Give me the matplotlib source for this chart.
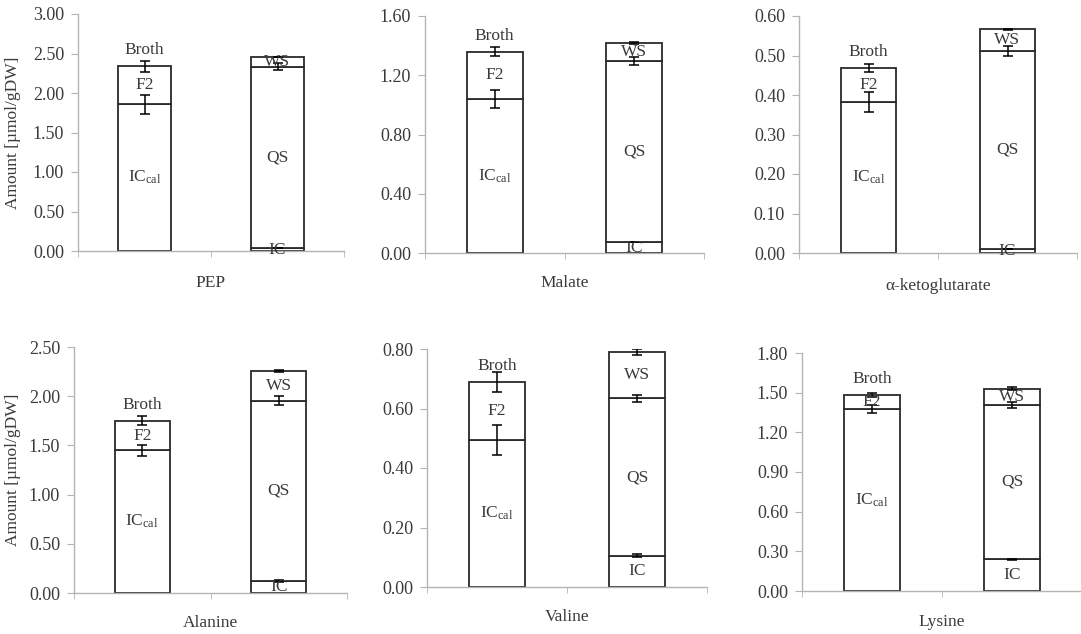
import matplotlib
matplotlib.use("Agg")
import matplotlib.pyplot as plt
import numpy as np

plt.rcParams["font.family"] = ["Liberation Serif", "DejaVu Serif"]
plt.rcParams["mathtext.fontset"] = "custom"
plt.rcParams["mathtext.rm"] = "Liberation Serif"
plt.rcParams["mathtext.it"] = "Liberation Serif"

# data (µmol/gDW)
metabolites = ["PEP", "Malate", "α-ketoglutarate", "Alanine", "Valine", "Lysine"]
ic_cal = [1.86, 1.04, 0.383, 1.45, 0.495, 1.378]
f2 = [0.48, 0.32, 0.086, 0.30, 0.195, 0.105]
ic = [0.035, 0.072, 0.010, 0.122, 0.105, 0.24]
qs = [2.30, 1.223, 0.502, 1.83, 0.529, 1.169]
ws = [0.115, 0.123, 0.054, 0.30, 0.156, 0.121]

ic_cal_err = [0.12, 0.062, 0.025, 0.055, 0.05, 0.03]
f2_err = [0.07, 0.028, 0.01, 0.045, 0.033, 0.017]
ic_err = [0.0, 0.0, 0.0, 0.01, 0.005, 0.005]
qs_err = [0.045, 0.025, 0.013, 0.045, 0.011, 0.022]
ws_err = [0.0, 0.005, 0.002, 0.01, 0.01, 0.01]

y_max = [3.0, 1.6, 0.6, 2.5, 0.8, 1.8]
y_step = [0.5, 0.4, 0.1, 0.5, 0.2, 0.3]

# axes boxes in pixels: left, top, right, bottom
boxes = [(78, 14, 344, 251), (425, 16, 704, 253), (799, 16, 1077, 253),
         (74, 347, 347, 593), (427, 349, 707, 587), (802, 353, 1082, 591)]
xlabel_y = [283, 283, 286, 623, 617, 622]
ylabel_x = 13

W, H = 1081, 634
fig = plt.figure(figsize=(W / 100, H / 100), dpi=100)

txt = "#3a3a3a"
axc = "#b4b4b4"
edge = "#2a2a2a"
bw = 0.4
fs = 12.5

for i, name in enumerate(metabolites):
    l, t, r, b = boxes[i]
    ax = fig.add_axes([l / W, 1 - b / H, (r - l) / W, (b - t) / H])
    ax.set_xlim(-0.5, 1.5)
    ax.set_ylim(0, y_max[i])

    kw = dict(width=bw, color="white", edgecolor=edge, linewidth=1.3, zorder=2)
    ax.bar(0, ic_cal[i], **kw)
    ax.bar(0, f2[i], bottom=ic_cal[i], **kw)
    ax.bar(1, ic[i], **kw)
    ax.bar(1, qs[i], bottom=ic[i], **kw)
    ax.bar(1, ws[i], bottom=ic[i] + qs[i], **kw)

    tops0 = [ic_cal[i], ic_cal[i] + f2[i]]
    errs0 = [ic_cal_err[i], f2_err[i]]
    tops1 = [ic[i], ic[i] + qs[i], ic[i] + qs[i] + ws[i]]
    errs1 = [ic_err[i], qs_err[i], ws_err[i]]
    ekw = dict(fmt="none", ecolor="black", elinewidth=1.1, capsize=3.5, capthick=1.1, zorder=3)
    ax.errorbar([0, 0], tops0, yerr=errs0, **ekw)
    ax.errorbar([1, 1, 1], tops1, yerr=errs1, **ekw)

    ax.text(0, ic_cal[i] / 2, "IC$_{\\mathrm{cal}}$", ha="center", va="center", color=txt, fontsize=fs, zorder=4)
    ax.text(0, ic_cal[i] + f2[i] / 2, "F2", ha="center", va="center", color=txt, fontsize=fs, zorder=4)
    ax.annotate("Broth", (0, ic_cal[i] + f2[i]), xytext=(0, 11.5), textcoords="offset points",
                ha="center", va="center", color=txt, fontsize=fs, zorder=4)
    ax.text(1, ic[i] / 2, "IC", ha="center", va="center", color=txt, fontsize=fs, zorder=4)
    ax.text(1, ic[i] + qs[i] / 2, "QS", ha="center", va="center", color=txt, fontsize=fs, zorder=4)
    ax.text(1, ic[i] + qs[i] + ws[i] / 2, "WS", ha="center", va="center", color=txt, fontsize=fs, zorder=4)

    ticks = np.arange(0, y_max[i] + y_step[i] / 2, y_step[i])
    ax.set_yticks(ticks)
    ax.set_yticklabels([f"{v:.2f}" for v in ticks])
    ax.set_xticks([])
    ax.set_xticks([-0.5, 0.5, 1.5], minor=True)
    ax.tick_params(axis="x", which="minor", length=4, color=axc, direction="out")
    ax.tick_params(axis="y", length=5, color=axc, labelcolor=txt, labelsize=13, pad=5)
    for s in ["top", "right"]:
        ax.spines[s].set_visible(False)
    for s in ["left", "bottom"]:
        ax.spines[s].set_color(axc)
        ax.spines[s].set_linewidth(1.0)
    ax.set_xlabel(name, color=txt, fontsize=fs, va="center")
    ax.xaxis.set_label_coords(0.5, -(xlabel_y[i] - b) / (b - t))
    if i % 3 == 0:
        ax.set_ylabel("Amount [µmol/gDW]", color=txt, fontsize=fs, va="center")
        ax.yaxis.set_label_coords(-(l - ylabel_x) / (r - l), 0.5)
    ax.patch.set_alpha(0)

fig.savefig("out.png", dpi=100)
